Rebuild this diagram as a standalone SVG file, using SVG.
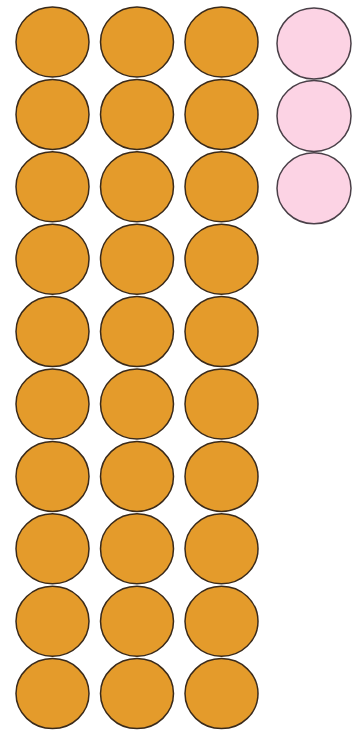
<svg xmlns="http://www.w3.org/2000/svg" width="362" height="734" viewBox="0 0 362 734">
<style>
.o{fill:#E49B2B;stroke:#3a2a1a;stroke-width:1.5}
.p{fill:#FCD3E4;stroke:#4a4048;stroke-width:1.5}
</style>
<rect width="362" height="734" fill="#fff"/>
<defs>
<g id="row">
<ellipse class="o" cx="52.5" cy="0" rx="36.5" ry="35"/>
<ellipse class="o" cx="137" cy="0" rx="36.5" ry="35"/>
<ellipse class="o" cx="221.5" cy="0" rx="36.5" ry="35"/>
</g>
</defs>
<g id="orange">
<use href="#row" y="42"/>
<use href="#row" y="114.4"/>
<use href="#row" y="186.8"/>
<use href="#row" y="259.2"/>
<use href="#row" y="331.6"/>
<use href="#row" y="404"/>
<use href="#row" y="476.4"/>
<use href="#row" y="548.8"/>
<use href="#row" y="621.2"/>
<use href="#row" y="693.6"/>
</g>
<g id="pink">
<ellipse class="p" cx="314" cy="43.5" rx="37" ry="35.5"/>
<ellipse class="p" cx="314" cy="115.9" rx="37" ry="35.5"/>
<ellipse class="p" cx="314" cy="188.3" rx="37" ry="35.5"/>
</g>
</svg>
